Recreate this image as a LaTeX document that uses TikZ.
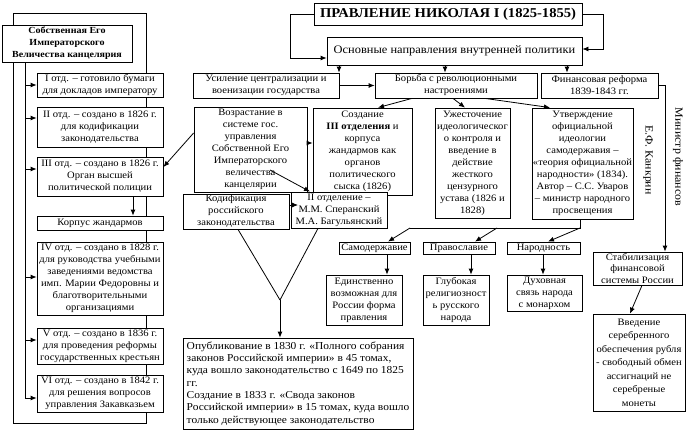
\documentclass[tikz,border=0pt]{standalone}
\usepackage{fontspec}
\setmainfont{Liberation Serif}[FakeStretch=1.08]
\usetikzlibrary{arrows.meta,calc}
\tikzset{
 box/.style={draw, fill=white, inner sep=1pt, align=center, font=\fontsize{9.8}{12}\selectfont, line width=0.8pt},
 arr/.style={-{Latex[length=6pt,width=5pt]}, line width=0.8pt},
 ln/.style={line width=0.8pt},
 vtext/.style={rotate=-90, font=\fontsize{11}{13}\selectfont}
}
\newcommand\mkbox[7][]{\node[box, minimum width={#5pt-#3pt}, minimum height={#6pt-#4pt}, #1] (#2) at ({(#3+#5)/2},{(#4+#6)/2}) {#7};}
\begin{document}
\begin{tikzpicture}[x=1pt,y=-1pt]
\useasboundingbox (0,0) rectangle (690,436);
% frame of the chancellery
\draw[ln] (13,13) rectangle (146,423);
% top
\mkbox[font=\fontsize{13.5}{15}\selectfont\bfseries]{title}{314}{3}{582}{25}{ПРАВЛЕНИЕ НИКОЛАЯ I (1825-1855)}
\mkbox[font=\fontsize{11.5}{13}\selectfont]{osn}{327}{37}{582}{65}{Основные направления внутренней политики}
\mkbox{usil}{193}{73}{339}{98}{Усиление централизации и\\военизации государства}
\mkbox{borba}{375}{73}{537}{98}{Борьба с революционными\\настроениями}
\mkbox{fin}{541}{73}{658}{98}{Финансовая реформа\\1839-1843 гг.}
% left column
\mkbox[font=\fontsize{9.3}{12}\selectfont\bfseries]{sob}{2}{25}{132}{62}{Собственная Его\\Императорского\\Величества канцелярия}
\mkbox{d1}{37}{73}{163}{97}{I отд. – готовило бумаги\\для докладов императору}
\mkbox{d2}{37}{107}{163}{147}{II отд. – создано в 1826 г.\\для кодификации\\законодательства}
\mkbox{d3}{37}{157}{163}{196}{III отд. – создано в 1826 г.\\Орган высшей\\политической полиции}
\mkbox{korp}{37}{216}{163}{230}{Корпус жандармов}
\mkbox{d4}{37}{242}{163}{315}{IV отд. – создано в 1828 г.\\для руководства учебными\\заведениями ведомства\\имп. Марии Федоровны и\\благотворительными\\организациями}
\mkbox{d5}{37}{328}{163}{364}{V отд. – создано в 1836 г.\\для проведения реформы\\государственных крестьян}
\mkbox{d6}{37}{375}{163}{412}{VI отд. – создано в 1842 г.\\для решения вопросов\\управления Закавказьем}
% middle
\mkbox{vozr}{194}{107}{307}{192}{Возрастание в\\системе гос.\\управления\\Собственной Его\\Императорского\\величества\\канцелярии}
\mkbox{sozd}{313}{108}{412}{195}{Создание\\\textbf{III отделения} и\\корпуса\\жандармов как\\органов\\политического\\сыска (1826)}
\mkbox{uzh}{435}{108}{510}{218}{Ужесточение\\идеологическог\\о контроля и\\введение в\\действие\\жесткого\\цензурного\\устава (1826 и\\1828)}
\mkbox{utv}{532}{108}{633}{219}{Утверждение\\официальной\\идеологии\\самодержавия –\\«теория официальной\\народности» (1834).\\Автор – С.С. Уваров\\– министр народного\\просвещения}
\mkbox{kod}{183}{194}{289}{229}{Кодификация\\российского\\законодательства}
\mkbox{otd}{291}{192}{387}{228}{II отделение –\\М.М. Сперанский\\М.А. Багульянский}
\mkbox{samo}{339}{242}{410}{254}{Самодержавие}
\mkbox{prav}{423}{242}{495}{254}{Православие}
\mkbox{nar}{507}{242}{580}{254}{Народность}
\mkbox{edin}{326}{275}{402}{325}{Единственно\\возможная для\\России форма\\правления}
\mkbox{glub}{423}{275}{489}{325}{Глубокая\\религиозност\\ь русского\\народа}
\mkbox{dukh}{507}{275}{582}{311}{Духовная\\связь народа\\с монархом}
\mkbox[font=\fontsize{9.8}{11.5}\selectfont]{stab}{593}{252}{682}{285}{Стабилизация\\финансовой\\системы России}
\mkbox[font=\fontsize{9.8}{13.5}\selectfont]{vved}{593}{314}{685}{411}{Введение\\серебренного\\обеспечения рубля\\- свободный обмен\\ассигнаций не\\серебреные\\монеты}
\mkbox[align=left, font=\fontsize{10.6}{12.3}\selectfont]{opub}{183}{338}{413}{429}{Опубликование в 1830 г. «Полного собрания\\законов Российской империи» в 45 томах,\\куда вошло законодательство с 1649 по 1825\\гг.\\Создание в 1833 г. «Свода законов\\Российской империи» в 15 томах, куда вошло\\только действующее законодательство}
% vertical texts
\node[vtext] (minf) at (678,157) {Министр финансов};
\node[vtext] (kank) at (648,160) {Е.Ф. Канкрин};
% connectors top
\draw[arr] (title.west) -- (290,0 |- title.west) |- (osn.west |- 0,58);
\draw[arr] (title.east) -- (603,0 |- title.east) |- (osn.east |- 0,49);
\draw[arr] (339,0 |- osn.south) -- (339,0 |- usil.north);
\draw[arr] (445,0 |- osn.south) -- (445,0 |- borba.north);
\draw[arr] (567,0 |- osn.south) -- (567,0 |- fin.north);
\draw[arr] (usil.east) -- (borba.west);
\draw[arr] (412,0 |- borba.south) -- (378,0 |- sozd.north);
\draw[arr] (453,0 |- borba.south) -- (465,0 |- uzh.north);
\draw[arr] (485,0 |- borba.south) -- (550,0 |- utv.north);
\draw[arr] (fin.east) -- (665,0 |- fin.east) -- (665,0 |- stab.north);
\draw[arr] (642,0 |- stab.south) -- (630,0 |- vved.north);
% chancellery
\coordinate (spine) at (25,398);
\draw[ln] (25,0 |- sob.south) -- (spine);
\foreach \n/\y in {d1/85,d2/118,d3/169,d4/277,d5/340,d6/398}
  \draw[arr] (25,\y) -- (\n.west |- 0,\y);
\draw[arr] (133,0 |- d3.south) -- (133,0 |- korp.north);
% middle
\draw[arr] (vozr.west |- 0,133) -- (d3.east |- 0,167);
\draw[arr] (vozr.east |- 0,143) -- (sozd.west |- 0,143);
\draw[arr] (270,170) -- (310,0 |- otd.north);
\draw[arr] (kod.east |- 0,205) -- (298,205);
\coordinate (vj) at (280,300);
\draw[ln] (238,0 |- kod.south) -- (vj);
\draw[ln] (318,0 |- otd.south) -- (vj);
\draw[arr] (vj) -- (280,0 |- opub.north);
% ideology
\coordinate (ij) at (580,228);
\draw[ln] (580,0 |- utv.south) -- (ij) -- (410,228);
\draw[arr] (410,228) -- (388,0 |- samo.north);
\draw[arr] (497,228) -- (475,0 |- prav.north);
\draw[arr] (ij) -- (548,0 |- nar.north);
\draw[arr] (387,0 |- samo.south) -- (387,0 |- edin.north);
\draw[arr] (471,0 |- prav.south) -- (471,0 |- glub.north);
\draw[arr] (543,0 |- nar.south) -- (543,0 |- dukh.north);
\end{tikzpicture}
\end{document}
